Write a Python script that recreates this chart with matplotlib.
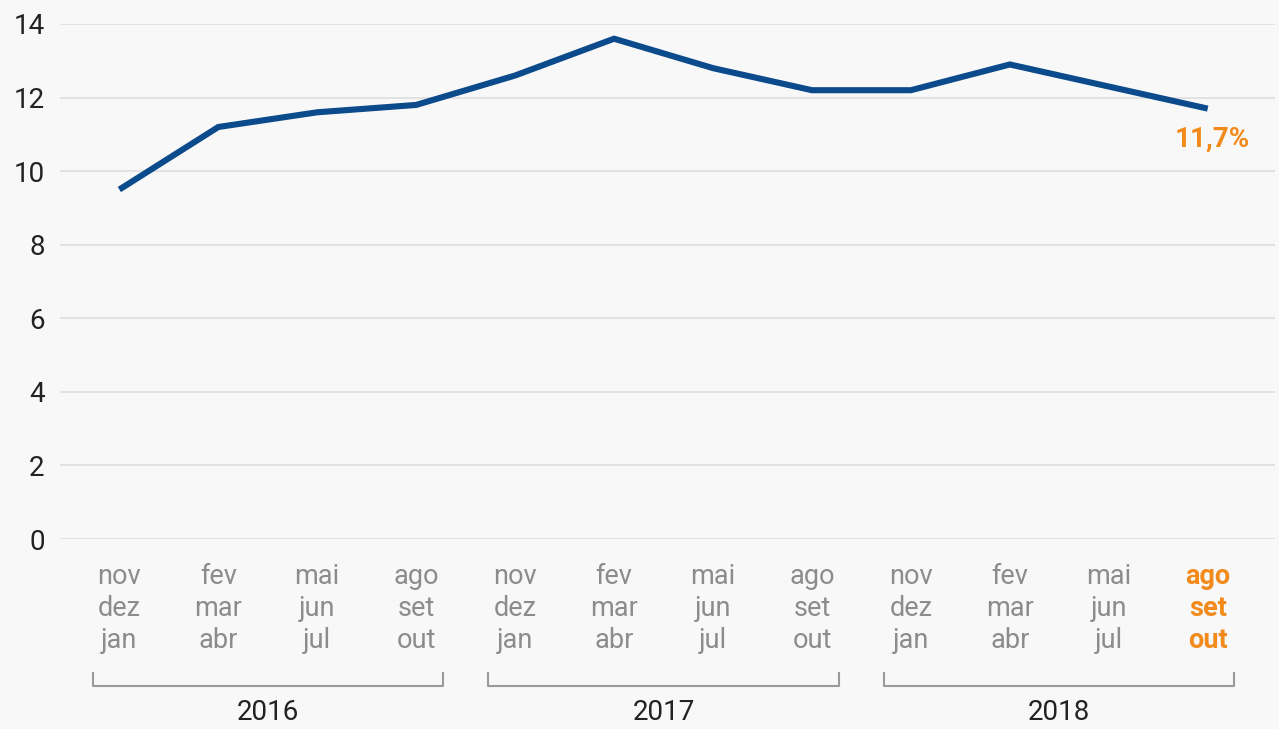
import matplotlib
matplotlib.use("Agg")
import matplotlib.pyplot as plt
import matplotlib.transforms as mtransforms

plt.rcParams['font.family'] = ['Roboto', 'DejaVu Sans']

# ---- data ----
period_labels = ["nov\ndez\njan", "fev\nmar\nabr", "mai\njun\njul", "ago\nset\nout",
                 "nov\ndez\njan", "fev\nmar\nabr", "mai\njun\njul", "ago\nset\nout",
                 "nov\ndez\njan", "fev\nmar\nabr", "mai\njun\njul", "ago\nset\nout"]
values = [9.5, 11.2, 11.6, 11.8, 12.6, 13.6, 12.8, 12.2, 12.2, 12.9, 12.3, 11.7]
years = ["2016", "2017", "2018"]
year_groups = [(0, 3), (4, 7), (8, 11)]
y_ticks = [0, 2, 4, 6, 8, 10, 12, 14]
last_label = "11,7%"

BG = "#f8f8f8"
BLUE = "#0b4a8b"
ORANGE = "#f28a1c"
GRAY = "#8c8c8c"
DARK = "#222222"

W, H = 1279, 729
fig = plt.figure(figsize=(W / 100, H / 100), dpi=100, facecolor=BG)
ax_left, ax_right, ax_top, ax_bot = 60, 1275, 24, 539
ax = fig.add_axes([ax_left / W, 1 - ax_bot / H, (ax_right - ax_left) / W, (ax_bot - ax_top) / H])
ax.set_facecolor(BG)

x = list(range(len(values)))
ax.plot(x, values, color=BLUE, lw=4.4, solid_capstyle='butt', solid_joinstyle='miter', zorder=3)

ax.set_ylim(0, 14)
ax.set_xlim(-0.6, 11.68)
ax.set_yticks(y_ticks)
ax.set_yticklabels([str(v) for v in y_ticks])
ax.yaxis.grid(True, color="#e2e2e2", lw=1.4)
ax.set_axisbelow(True)
ax.tick_params(axis='y', length=0, pad=11, labelsize=20, labelcolor=DARK)
ax.set_xticks([])
for s in ax.spines.values():
    s.set_visible(False)

# month labels
trans = mtransforms.blended_transform_factory(ax.transData, ax.transAxes)
px = 1 / 515.0
for i, lab in enumerate(period_labels):
    last = i == len(period_labels) - 1
    for j, line in enumerate(lab.split("\n")):
        ycen = [577, 608, 640][j]
        ax.text(i, -(ycen - ax_bot) * px, line, transform=trans, ha='center', va='center',
                fontsize=19.5, color=ORANGE if last else GRAY,
                fontweight='bold' if last else 'normal', clip_on=False)

# year brackets
for yr, (a, b) in zip(years, year_groups):
    x0, x1 = a - 0.27, b + 0.27
    yb = -(686 - ax_bot) * px
    yt = -(673 - ax_bot) * px
    ax.plot([x0, x0, x1, x1], [yt, yb, yb, yt], transform=trans, color="#9a9a9a",
            lw=1.5, clip_on=False)
    ax.text((a + b) / 2, -(713 - ax_bot) * px, yr, transform=trans, ha='center', va='center',
            fontsize=20, color=DARK, clip_on=False)

# end label
ax.annotate(last_label, xy=(x[-1], values[-1]), xytext=(3, -22), textcoords='offset points',
            ha='center', va='center', fontsize=20, fontweight='bold', color=ORANGE)

fig.savefig("out.png", dpi=100, facecolor=BG)
